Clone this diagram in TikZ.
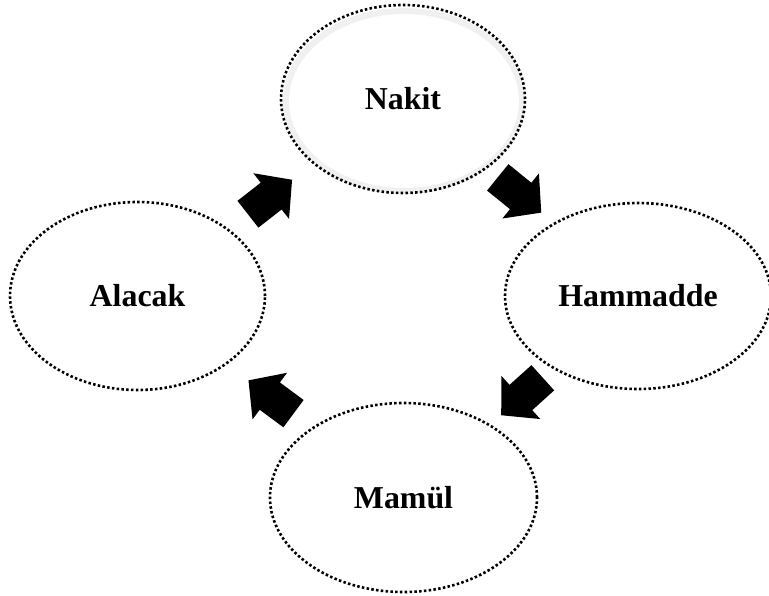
\documentclass[tikz,border=0pt]{standalone}
\usepackage{fontspec}
\setmainfont{Liberation Serif}
\usetikzlibrary{shapes.geometric}
\tikzset{
  stage/.style={ellipse, draw=black, line width=2.6bp, dash pattern=on 2.5bp off 2.3bp,
    inner sep=0pt, font=\bfseries\fontsize{32}{36}\selectfont, text=black},
  glow/.style={ellipse, draw=black!6, line width=6bp, inner sep=0pt},
  blockarr/.pic={
    \fill[black] (-28bp,-17bp) -- (1.5bp,-17bp) -- (1.5bp,-29bp) -- (28bp,0bp)
      -- (1.5bp,29bp) -- (1.5bp,17bp) -- (-28bp,17bp) -- cycle;
  }
}
\begin{document}
\begin{tikzpicture}[x=1bp,y=-1bp]
\clip (0,0) rectangle (769,596);
\fill[white] (0,0) rectangle (769,596);
% soft glow of Nakit
\node[glow, minimum width=236bp, minimum height=180bp] (nglow) at (404,101) {};
\node[stage, minimum width=244bp, minimum height=188bp] (nakit) at (403,99) {Nakit};
\node[stage, minimum width=266bp, minimum height=186bp] (hammadde) at (638,296) {Hammadde};
\node[stage, minimum width=267bp, minimum height=189bp] (mamul) at (403.5,497.5) {Mamül};
\node[stage, minimum width=255bp, minimum height=188bp] (alacak) at (137.5,296) {Alacak};
% block arrows between the stages
\coordinate (a1) at (270,197);
\coordinate (a2) at (519.5,195);
\coordinate (a3) at (522,396.5);
\coordinate (a4) at (271,397);
\pic[rotate=38] at (a1) {blockarr};
\pic[rotate=-39] at (a2) {blockarr};
\pic[rotate=222] at (a3) {blockarr};
\pic[rotate=143.5] at (a4) {blockarr};
\end{tikzpicture}
\end{document}
